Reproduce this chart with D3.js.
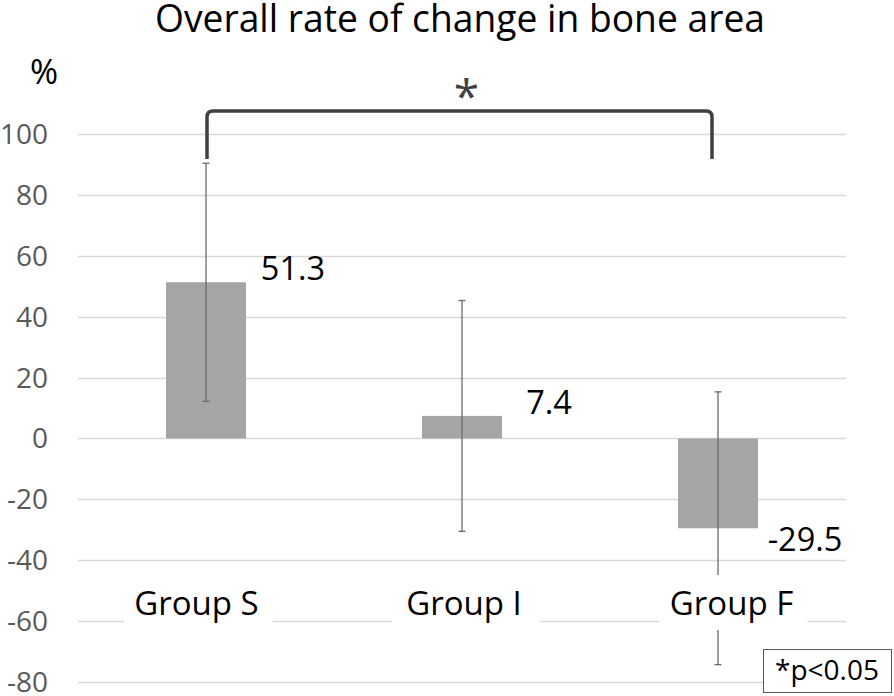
<!DOCTYPE html>
<html>
<head>
<meta charset="utf-8">
<script src="https://cdn.jsdelivr.net/npm/d3@7"></script>
<style>
  html, body { margin: 0; padding: 0; background: #fff; }
  svg { display: block; font-family: "Open Sans", sans-serif; }
</style>
</head>
<body>
<svg id="chart" width="894" height="696"></svg>
<script>
// ---- data ----
const groups = ["Group S", "Group I", "Group F"];
const means = [51.3, 7.4, -29.5];
const sds = [39.1, 37.9, 44.8];
const valueLabels = ["51.3", "7.4", "-29.5"];
const yTicks = [100, 80, 60, 40, 20, 0, -20, -40, -60, -80];
const title = "Overall rate of change in bone area";
const unitLabel = "%";
const sigPair = ["Group S", "Group F"];
const sigMark = "*";
const noteText = "*p<0.05";

// ---- layout ----
const W = 894, H = 696;
const plot = { left: 78, right: 846, top: 134, bottom: 682 };

const svg = d3.select("#chart");

const y = d3.scaleLinear().domain([-80, 100]).range([plot.bottom, plot.top]);
const x = d3.scaleBand().domain(groups).range([plot.left, plot.right])
  .paddingInner(0.6875).paddingOuter(0.34375);
const xLab = d3.scaleBand().domain(groups).range([64.75, 867.25]);

// gridlines
svg.append("g").selectAll("line").data(yTicks).join("line")
  .attr("x1", plot.left).attr("x2", plot.right)
  .attr("y1", d => Math.round(y(d)) + 0.5).attr("y2", d => Math.round(y(d)) + 0.5)
  .attr("stroke", "#d9d9d9").attr("stroke-width", 1.3);

// y axis labels
const yAxis = d3.axisLeft(y).tickValues(yTicks).tickSize(0).tickPadding(0)
  .tickFormat(d => String(d));
const gy = svg.append("g").attr("transform", "translate(48,0)").call(yAxis);
gy.select(".domain").remove();
gy.selectAll("text").attr("fill", "#595959").attr("font-size", 28)
  .attr("font-family", "Open Sans").attr("dy", "0.34em");

// bars
const data = groups.map((g, i) => ({ g, m: means[i], sd: sds[i], lab: valueLabels[i] }));
svg.append("g").selectAll("rect").data(data).join("rect")
  .attr("x", d => x(d.g)).attr("width", x.bandwidth())
  .attr("y", d => y(Math.max(0, d.m)))
  .attr("height", d => Math.abs(y(d.m) - y(0)))
  .attr("fill", "#a5a5a5");

// error bars
const eb = svg.append("g").attr("stroke", "#6b6b6b").attr("stroke-width", 1.3);
data.forEach(d => {
  const cx = x(d.g) + x.bandwidth() / 2;
  eb.append("line").attr("x1", cx).attr("x2", cx)
    .attr("y1", y(d.m + d.sd)).attr("y2", y(d.m - d.sd));
  [d.m + d.sd, d.m - d.sd].forEach(v => {
    eb.append("line").attr("x1", cx - 3.5).attr("x2", cx + 3.5)
      .attr("y1", y(v)).attr("y2", y(v));
  });
});

// value labels
svg.append("g").selectAll("text").data(data).join("text")
  .attr("x", d => x(d.g) + x.bandwidth() / 2 + 87)
  .attr("y", d => d.m >= 0 ? y(d.m) - 2 : y(d.m) + 23)
  .attr("text-anchor", "middle").attr("font-size", 32.5).attr("fill", "#000")
  .text(d => d.lab);

// category labels with white boxes
const cat = svg.append("g");
cat.selectAll("rect").data(groups).join("rect")
  .attr("x", d => xLab(d) + xLab.bandwidth() / 2 - 74)
  .attr("y", 575).attr("width", 148).attr("height", 55)
  .attr("fill", "#fff");
cat.selectAll("text").data(groups).join("text")
  .attr("x", d => xLab(d) + xLab.bandwidth() / 2 - 2)
  .attr("y", 615).attr("text-anchor", "middle")
  .attr("font-size", 33).attr("fill", "#000")
  .text(d => d);

// title
svg.append("text").attr("x", 460).attr("y", 32).attr("text-anchor", "middle")
  .attr("font-size", 38).attr("textLength", 610).attr("lengthAdjust", "spacingAndGlyphs")
  .attr("fill", "#000").text(title);

// unit label
svg.append("text").attr("x", 44).attr("y", 84).attr("text-anchor", "middle")
  .attr("font-size", 34).attr("fill", "#000").text(unitLabel);

// significance bracket
const bx1 = x(sigPair[0]) + x.bandwidth() / 2 + 1;
const bx2 = x(sigPair[1]) + x.bandwidth() / 2 - 6;
const byTop = 111, byBot = 159, r = 6;
svg.append("path")
  .attr("d", `M${bx1},${byBot} L${bx1},${byTop + r} Q${bx1},${byTop} ${bx1 + r},${byTop} L${bx2 - r},${byTop} Q${bx2},${byTop} ${bx2},${byTop + r} L${bx2},${byBot}`)
  .attr("fill", "none").attr("stroke", "#404040").attr("stroke-width", 3.5);
svg.append("text").attr("x", (bx1 + bx2) / 2 + 7).attr("y", 113)
  .attr("text-anchor", "middle").attr("font-size", 46).attr("fill", "#404040")
  .text(sigMark);

// note box
svg.append("rect").attr("x", 763.5).attr("y", 649.5).attr("width", 128).attr("height", 43)
  .attr("fill", "#fff").attr("stroke", "#595959").attr("stroke-width", 1);
svg.append("text").attr("x", 775).attr("y", 680).attr("font-size", 28).attr("fill", "#000")
  .text(noteText);
</script>
</body>
</html>
